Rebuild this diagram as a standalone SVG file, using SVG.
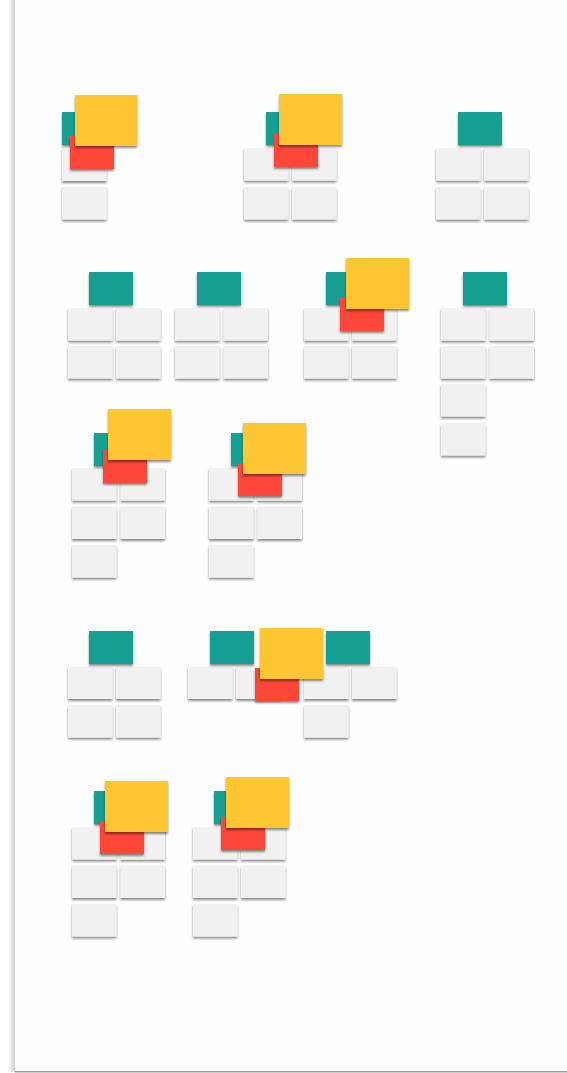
<svg xmlns="http://www.w3.org/2000/svg" width="567" height="1073" viewBox="0 0 567 1073">
<defs>
<filter id="sh" x="-20%" y="-20%" width="140%" height="150%">
<feDropShadow dx="0" dy="2" stdDeviation="0.9" flood-color="#000" flood-opacity="0.45"/>
</filter>
<linearGradient id="lg" x1="0" y1="0" x2="1" y2="0">
<stop offset="0" stop-color="#ffffff"/>
<stop offset="1" stop-color="#cfcfcf"/>
</linearGradient>
<style>
.t{fill:#f1f1f1;filter:url(#sh)}
.g{fill:#18a094;filter:url(#sh)}
.r{fill:#fc4638;filter:url(#sh)}
.y{fill:#fdc632;filter:url(#sh)}
</style>
</defs>
<rect x="0" y="0" width="567" height="1073" fill="#ffffff"/>
<g id="page">
<rect x="8" y="0" width="7" height="1072" fill="url(#lg)"/>
<rect x="15" y="0" width="552" height="1071" fill="#fefefe"/>
<rect x="15" y="1071" width="552" height="1.5" fill="#9c9c9c"/>
</g>
<g id="n1">
<rect class="t" x="62" y="148.5" width="44.5" height="32.5"/>
<rect class="t" x="62" y="187" width="44.5" height="32.5"/>
<rect class="g" x="62" y="112" width="44" height="33"/>
<rect class="r" x="70" y="136" width="44" height="33"/>
<rect class="y" x="75" y="95" width="62" height="51"/>
</g>
<g id="n2">
<rect class="t" x="244" y="148" width="44.5" height="32.5"/>
<rect class="t" x="292" y="148" width="44.5" height="32.5"/>
<rect class="t" x="244" y="187" width="44.5" height="32.5"/>
<rect class="t" x="292" y="187" width="44.5" height="32.5"/>
<rect class="g" x="266" y="112" width="44" height="33"/>
<rect class="r" x="274" y="134" width="44" height="33"/>
<rect class="y" x="279" y="94" width="63" height="51"/>
</g>
<g id="n3">
<rect class="t" x="436" y="148" width="44.5" height="32.5"/>
<rect class="t" x="484" y="148" width="44.5" height="32.5"/>
<rect class="t" x="436" y="187" width="44.5" height="32.5"/>
<rect class="t" x="484" y="187" width="44.5" height="32.5"/>
<rect class="g" x="458" y="112" width="44" height="33"/>
</g>
<g id="n4">
<rect class="t" x="68" y="308" width="44.5" height="32.5"/>
<rect class="t" x="116" y="308" width="44.5" height="32.5"/>
<rect class="t" x="68" y="346" width="44.5" height="32.5"/>
<rect class="t" x="116" y="346" width="44.5" height="32.5"/>
<rect class="g" x="89" y="272" width="44" height="33"/>
</g>
<g id="n5">
<rect class="t" x="175" y="308" width="44.5" height="32.5"/>
<rect class="t" x="223.5" y="308" width="44.5" height="32.5"/>
<rect class="t" x="175" y="346" width="44.5" height="32.5"/>
<rect class="t" x="223.5" y="346" width="44.5" height="32.5"/>
<rect class="g" x="197" y="272" width="44" height="33"/>
</g>
<g id="n6">
<rect class="t" x="304" y="308" width="44.5" height="32.5"/>
<rect class="t" x="352" y="308" width="44.5" height="32.5"/>
<rect class="t" x="304" y="346" width="44.5" height="32.5"/>
<rect class="t" x="352" y="346" width="44.5" height="32.5"/>
<rect class="g" x="326" y="272" width="44" height="33"/>
<rect class="r" x="340" y="298" width="44" height="33"/>
<rect class="y" x="346" y="258" width="63" height="51"/>
</g>
<g id="n7">
<rect class="t" x="441" y="308" width="44.5" height="32.5"/>
<rect class="t" x="489.5" y="308" width="44.5" height="32.5"/>
<rect class="t" x="441" y="346" width="44.5" height="32.5"/>
<rect class="t" x="489.5" y="346" width="44.5" height="32.5"/>
<rect class="t" x="441" y="384" width="44.5" height="32.5"/>
<rect class="t" x="441" y="423" width="44.5" height="32.5"/>
<rect class="g" x="463" y="272" width="44" height="33"/>
</g>
<g id="n8">
<rect class="t" x="72" y="468" width="44.5" height="32.5"/>
<rect class="t" x="120.5" y="468" width="44.5" height="32.5"/>
<rect class="t" x="72" y="506.5" width="44.5" height="32.5"/>
<rect class="t" x="120.5" y="506.5" width="44.5" height="32.5"/>
<rect class="t" x="72" y="545" width="44.5" height="32.5"/>
<rect class="g" x="94" y="433" width="44" height="33"/>
<rect class="r" x="103" y="450" width="44" height="33"/>
<rect class="y" x="108" y="409" width="63" height="51"/>
</g>
<g id="n9">
<rect class="t" x="209" y="468" width="44.5" height="32.5"/>
<rect class="t" x="257.5" y="468" width="44.5" height="32.5"/>
<rect class="t" x="209" y="506.5" width="44.5" height="32.5"/>
<rect class="t" x="257.5" y="506.5" width="44.5" height="32.5"/>
<rect class="t" x="209" y="545" width="44.5" height="32.5"/>
<rect class="g" x="231" y="433" width="44" height="33"/>
<rect class="r" x="238" y="463" width="44" height="33"/>
<rect class="y" x="243" y="423" width="63" height="51"/>
</g>
<g id="n10">
<rect class="t" x="68" y="666.5" width="44.5" height="32.5"/>
<rect class="t" x="116" y="666.5" width="44.5" height="32.5"/>
<rect class="t" x="68" y="705" width="44.5" height="32.5"/>
<rect class="t" x="116" y="705" width="44.5" height="32.5"/>
<rect class="g" x="89" y="631" width="44" height="33"/>
</g>
<g id="n11">
<rect class="t" x="188" y="666.5" width="44.5" height="32.5"/>
<rect class="t" x="236" y="666.5" width="44.5" height="32.5"/>
<rect class="t" x="304" y="666.5" width="44.5" height="32.5"/>
<rect class="t" x="352" y="666.5" width="44.5" height="32.5"/>
<rect class="t" x="304" y="705" width="44.5" height="32.5"/>
<rect class="g" x="210" y="631" width="44" height="33"/>
<rect class="g" x="326" y="631" width="44" height="33"/>
<rect class="r" x="255" y="668" width="44" height="33"/>
<rect class="y" x="260" y="628" width="63" height="51"/>
</g>
<g id="n12">
<rect class="t" x="72" y="827" width="44.5" height="32.5"/>
<rect class="t" x="120.5" y="827" width="44.5" height="32.5"/>
<rect class="t" x="72" y="865.5" width="44.5" height="32.5"/>
<rect class="t" x="120.5" y="865.5" width="44.5" height="32.5"/>
<rect class="t" x="72" y="904" width="44.5" height="32.5"/>
<rect class="g" x="94" y="791" width="44" height="33"/>
<rect class="r" x="100" y="821" width="44" height="33"/>
<rect class="y" x="105" y="781" width="63" height="51"/>
</g>
<g id="n13">
<rect class="t" x="193" y="827" width="44.5" height="32.5"/>
<rect class="t" x="241" y="827" width="44.5" height="32.5"/>
<rect class="t" x="193" y="865.5" width="44.5" height="32.5"/>
<rect class="t" x="241" y="865.5" width="44.5" height="32.5"/>
<rect class="t" x="193" y="904" width="44.5" height="32.5"/>
<rect class="g" x="214" y="791" width="44" height="33"/>
<rect class="r" x="221" y="817" width="44" height="33"/>
<rect class="y" x="226" y="777" width="63" height="51"/>
</g>
</svg>
